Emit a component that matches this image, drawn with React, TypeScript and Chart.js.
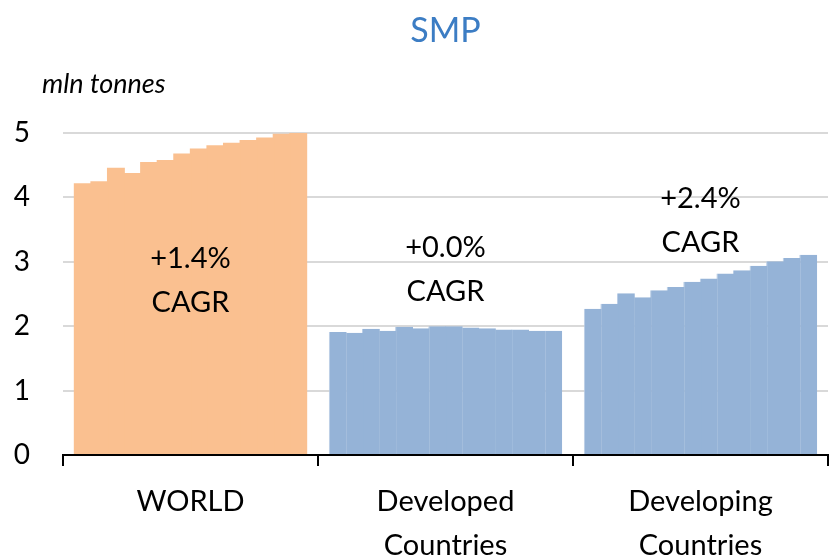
import React, { useEffect, useRef } from "react";
import { Chart, registerables } from "chart.js";

Chart.register(...registerables);

// ---- Data ----
const CATEGORIES: string[][] = [["WORLD"], ["Developed", "Countries"], ["Developing", "Countries"]];
const YEARS: string[] = ["2012", "2013", "2014", "2015", "2016", "2017", "2018", "2019", "2020", "2021", "2022", "2023", "2024", "2025"];
const WORLD: number[] = [4.22, 4.25, 4.46, 4.38, 4.55, 4.58, 4.68, 4.76, 4.81, 4.85, 4.89, 4.93, 4.99, 5.0];
const DEVELOPED: number[] = [1.91, 1.9, 1.96, 1.93, 1.99, 1.97, 2.0, 2.0, 1.98, 1.97, 1.95, 1.95, 1.93, 1.93];
const DEVELOPING: number[] = [2.27, 2.35, 2.51, 2.45, 2.56, 2.61, 2.69, 2.74, 2.82, 2.87, 2.94, 3.01, 3.06, 3.11];
const CAGR_TEXT: string[] = ["+1.4%", "+0.0%", "+2.4%"];
const CAGR_ANCHOR: number[] = [3.05, 3.22, 3.98];
const Y_MIN = 0;
const Y_MAX = 5;
const Y_STEP = 1;
const TITLE = "SMP";
const UNIT = "mln tonnes";

const ORANGE = "#FAC090";
const BLUE = "#95B3D7";
const BLUE_SEP = "#B9CDE5";
const FONT = "Lato, 'Open Sans', sans-serif";

const textPlugin = {
  id: "textPlugin",
  afterDraw(chart: any) {
    const { ctx, chartArea, scales } = chart;
    const xs = scales.x;
    const ys = scales.y;
    ctx.save();
    // Title
    ctx.fillStyle = "#3C7DC4";
    ctx.font = `34px ${FONT}`;
    ctx.textAlign = "center";
    ctx.textBaseline = "middle";
    ctx.fillText(TITLE, (chartArea.left + chartArea.right) / 2, 31);
    // Unit
    ctx.fillStyle = "#000";
    ctx.font = `italic 27px ${FONT}`;
    ctx.textAlign = "left";
    ctx.fillText(UNIT, 42, 84);
    // CAGR annotations
    ctx.font = `29px ${FONT}`;
    ctx.textAlign = "center";
    CAGR_TEXT.forEach((t, i) => {
      const x = xs.getPixelForValue(i);
      const y = ys.getPixelForValue(CAGR_ANCHOR[i]);
      ctx.fillText(t, x, y);
      ctx.fillText("CAGR", x, y + 44);
    });
    ctx.restore();
  },
};

export default function App() {
  const ref = useRef<HTMLCanvasElement | null>(null);
  useEffect(() => {
    if (!ref.current) return;
    const datasets = YEARS.map((yr, i) => ({
      label: yr,
      data: [WORLD[i], DEVELOPED[i], DEVELOPING[i]],
      backgroundColor: [ORANGE, BLUE, BLUE],
      borderColor: [ORANGE, BLUE_SEP, BLUE_SEP],
      borderWidth: (c: any) =>
        c.dataIndex === 0 ? 0 : { left: 1, right: 0, top: 0, bottom: 0 },
      inflateAmount: 0,
      categoryPercentage: 0.91,
      barPercentage: 1.08,
    }));
    const chart = new Chart(ref.current, {
      type: "bar",
      data: { labels: CATEGORIES, datasets },
      options: {
        responsive: false,
        animation: false,
        layout: { padding: { top: 133, right: 1, left: 0, bottom: 0 } },
        plugins: {
          legend: { display: false },
          tooltip: { enabled: false },
          title: { display: false },
        },
        scales: {
          x: {
            type: "category",
            grid: {
              offset: true,
              drawOnChartArea: false,
              drawTicks: true,
              tickLength: 11,
              color: "#000",
              lineWidth: 2,
            },
            border: { display: true, color: "#000", width: 2 },
            ticks: {
              color: "#000",
              font: { family: FONT, size: 29, lineHeight: 1.5 },
              padding: 14,
              maxRotation: 0,
              autoSkip: false,
            },
            afterFit(scale: any) {
              scale.height = 105;
            },
          },
          y: {
            min: Y_MIN,
            max: Y_MAX,
            grid: {
              drawTicks: false,
              color: (c: any) => (c.tick && c.tick.value === 0 ? "rgba(0,0,0,0)" : "#D9D9D9"),
              lineWidth: 2,
            },
            border: { display: false },
            ticks: {
              stepSize: Y_STEP,
              color: "#000",
              font: { family: FONT, size: 28 },
              padding: 33,
            },
            afterFit(scale: any) {
              scale.width = 63;
            },
          },
        },
      },
      plugins: [textPlugin],
    } as any);
    return () => chart.destroy();
  }, []);
  return (
    <div style={{ position: "absolute", left: 0, top: 0, width: 829, height: 560, background: "#fff" }}>
      <canvas ref={ref} width={829} height={560} style={{ width: 829, height: 560 }} />
    </div>
  );
}
